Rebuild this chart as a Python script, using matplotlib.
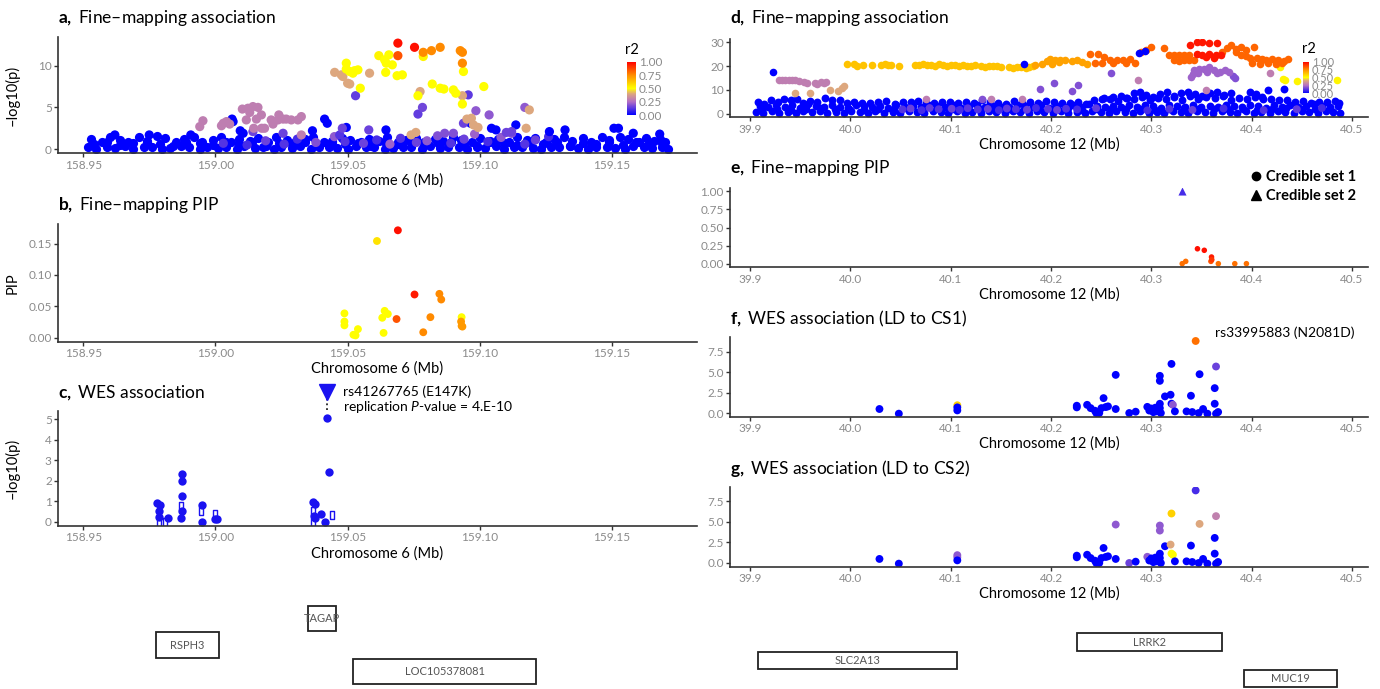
import matplotlib
matplotlib.use('Agg')
import matplotlib.pyplot as plt
from matplotlib.colors import LinearSegmentedColormap, Normalize
from matplotlib.cm import ScalarMappable
from matplotlib.lines import Line2D
from matplotlib.patches import Rectangle

plt.rcParams['font.family'] = ['Lato', 'DejaVu Sans']
plt.rcParams['mathtext.fontset'] = 'custom'
plt.rcParams['mathtext.rm'] = 'Lato'
plt.rcParams['mathtext.it'] = 'Lato:italic'
plt.rcParams['mathtext.bf'] = 'Lato:bold'

### DATA

# --- chr6 locus, panel a: fine-mapping association (-log10 p), coloured by r2
a_band1_x = [158.952, 158.955, 158.959, 158.962, 158.966, 158.969, 158.973, 158.976,
             158.980, 158.983, 158.987, 158.990, 158.994, 158.997, 159.001, 159.004,
             159.008, 159.011, 159.015, 159.018, 159.022, 159.025, 159.029, 159.032,
             159.036, 159.039, 159.043, 159.046, 159.050, 159.053, 159.057, 159.060,
             159.064, 159.067, 159.071, 159.074, 159.078, 159.081, 159.085, 159.088,
             159.092, 159.095, 159.099, 159.102, 159.106, 159.109, 159.113, 159.116,
             159.120, 159.123, 159.127, 159.130, 159.134, 159.137, 159.141, 159.144,
             159.148, 159.151, 159.155, 159.158, 159.162, 159.165, 159.169, 159.171]
a_band1_y = [0.2, 0.0, 0.3, 0.1, 0.4, 0.0, 0.2, 0.3,
             0.0, 0.1, 0.4, 0.2, 0.0, 0.3, 0.1, 0.2,
             0.0, 0.4, 0.1, 0.3, 0.0, 0.2, 0.1, 0.4,
             0.0, 0.3, 0.2, 0.1, 0.0, 0.4, 0.2, 0.3,
             0.0, 0.1, 0.3, 0.2, 0.0, 0.4, 0.1, 0.2,
             0.3, 0.0, 0.2, 0.1, 0.4, 0.0, 0.3, 0.2,
             0.1, 0.0, 0.3, 0.2, 0.4, 0.1, 0.0, 0.2,
             0.3, 0.1, 0.0, 0.4, 0.2, 0.1, 0.3, 0.0]
a_band2_x = [158.953, 158.957, 158.960, 158.964, 158.967, 158.971, 158.974, 158.978,
             158.981, 158.985, 158.988, 158.992, 158.995, 158.999, 159.002, 159.006,
             159.009, 159.013, 159.016, 159.020, 159.023, 159.027, 159.030, 159.034,
             159.037, 159.041, 159.044, 159.048, 159.051, 159.055, 159.058, 159.062,
             159.065, 159.069, 159.072, 159.076, 159.079, 159.083, 159.086, 159.090,
             159.093, 159.097, 159.100, 159.104, 159.107, 159.111, 159.114, 159.118,
             159.121, 159.125, 159.128, 159.132, 159.135, 159.139, 159.142, 159.146,
             159.149, 159.153, 159.156, 159.160, 159.163, 159.166, 159.168, 159.170]
a_band2_y = [1.2, 0.9, 1.5, 1.1, 0.8, 1.4, 1.0, 1.6,
             1.3, 0.9, 1.2, 1.5, 0.8, 1.1, 1.4, 0.9,
             1.2, 1.0, 1.3, 0.8, 1.5, 1.1, 0.9, 1.2,
             1.4, 0.8, 1.0, 1.3, 1.1, 0.9, 1.2, 1.0,
             1.4, 0.9, 1.1, 1.3, 0.8, 1.2, 1.0, 1.5,
             1.1, 0.9, 1.3, 1.0, 1.2, 0.8, 1.4, 1.1,
             1.3, 0.9, 1.2, 1.5, 1.0, 1.3, 0.9, 1.4,
             1.1, 1.5, 1.2, 0.9, 1.3, 1.0, 1.2, 0.8]
a_band3_x = [158.954, 158.959, 158.964, 158.969, 158.974, 158.979, 158.984, 158.989,
             158.994, 158.999, 159.004, 159.009, 159.014, 159.019, 159.024, 159.029,
             159.034, 159.039, 159.044, 159.049, 159.054, 159.059, 159.064, 159.069,
             159.074, 159.079, 159.084, 159.089, 159.094, 159.099, 159.104, 159.109,
             159.114, 159.119, 159.124, 159.129, 159.134, 159.139, 159.144, 159.149,
             159.154, 159.159, 159.164, 159.169]
a_band3_y = [0.6, 0.8, 0.5, 0.7, 0.9, 0.6, 0.4, 0.8,
             0.7, 0.5, 0.9, 0.6, 0.8, 0.4, 0.7, 0.6,
             0.9, 0.5, 0.8, 0.6, 0.7, 0.4, 0.9, 0.6,
             0.8, 0.5, 0.7, 0.9, 0.6, 0.4, 0.8, 0.7,
             0.5, 0.9, 0.6, 0.8, 0.4, 0.7, 0.6, 0.9,
             0.5, 0.8, 0.6, 0.7]
a_low_x = [159.003, 159.012, 159.019, 159.026, 159.031, 159.038, 159.045, 159.049,
           159.056, 159.061, 159.066, 159.070, 159.076, 159.080, 159.084, 159.089,
           159.094, 159.098, 159.103, 159.108, 159.112, 159.117, 159.121, 159.126]
a_low_y = [0.7, 0.5, 1.0, 0.6, 1.2, 0.8, 1.5, 0.9,
           0.7, 1.1, 0.6, 1.3, 0.8, 1.0, 1.6, 0.7,
           1.2, 1.8, 0.9, 1.4, 1.9, 0.6, 1.1, 1.5]
a_low_r2 = [0.12, 0.10, 0.15, 0.12, 0.10, 0.18, 0.20, 0.12,
            0.15, 0.10, 0.22, 0.12, 0.15, 0.20, 0.18, 0.12,
            0.15, 0.22, 0.10, 0.20, 0.18, 0.12, 0.15, 0.10]

a_x = [158.962, 158.975, 158.9907, 159.0063, 159.0067, 159.0094, 159.0105, 159.0367,
       159.0413, 159.0423, 159.0495, 159.0645, 159.0965, 159.1044, 159.1061, 159.1136,
       159.1263, 159.1322, 159.1507, 159.1524, 159.158, 159.168,
       159.0142, 159.0256, 159.047, 159.048, 159.053, 159.058, 159.0766, 159.0783,
       159.0867, 159.0900, 159.0938, 159.0956, 159.0985, 159.1035, 159.110, 159.112, 159.117,
       158.9941, 158.9953, 159.0023, 159.0030, 159.0042, 159.0054, 159.0102, 159.0117,
       159.0123, 159.0130, 159.0142, 159.0145, 159.0155, 159.0161, 159.0174, 159.0175,
       159.0186, 159.0211, 159.0218, 159.0237, 159.0240, 159.0256, 159.0268, 159.0287,
       159.0312, 159.0325, 159.0325,
       159.0451, 159.0476, 159.0482, 159.0500, 159.0508, 159.0583, 159.0740, 159.0758,
       159.0774, 159.0934, 159.0951, 159.0968, 159.0976, 159.0993, 159.1175, 159.1187,
       159.0495, 159.0495, 159.0508, 159.0520, 159.0526, 159.0539, 159.0548, 159.0618,
       159.0640, 159.0644, 159.0646, 159.0656, 159.0669, 159.0687, 159.0707, 159.0766,
       159.0786, 159.0820, 159.0850, 159.0864, 159.0900, 159.0909, 159.0934, 159.0938, 159.1015,
       159.0786, 159.0817, 159.0850, 159.0926, 159.0934, 159.0934, 159.0690, 159.0690, 159.0753]
a_y = [1.7, 1.7, 1.7, 3.6, 3.3, 2.2, 1.9, 2.2,
       3.6, 3.1, 2.6, 2.3, 3.1, 2.5, 2.3, 2.9,
       2.1, 2.3, 2.5, 2.5, 1.9, 1.8,
       2.1, 1.9, 1.7, 2.5, 6.4, 2.3, 4.2, 5.0,
       1.9, 1.9, 3.1, 6.5, 4.6, 4.1, 2.0, 2.1, 5.0,
       2.7, 3.4, 2.8, 3.1, 3.3, 3.0, 4.8, 3.5,
       4.9, 4.4, 5.1, 2.5, 3.6, 5.0, 4.1, 2.5,
       2.5, 3.5, 3.0, 3.5, 4.1, 3.6, 3.6, 3.5,
       3.5, 3.9, 1.7,
       9.2, 8.9, 8.7, 7.9, 7.8, 9.1, 1.7, 2.0,
       6.9, 6.4, 3.6, 3.7, 2.9, 2.6, 2.5, 4.7,
       10.3, 9.6, 9.3, 9.1, 9.4, 9.5, 7.3, 11.2,
       10.7, 9.2, 10.3, 11.3, 10.1, 8.8, 8.9, 6.4,
       11.1, 7.8, 7.3, 7.2, 7.1, 6.7, 5.4, 9.3, 7.5,
       11.6, 11.8, 12.2, 11.8, 11.6, 10.3, 11.2, 12.7, 12.2]
a_r2 = [0.0, 0.0, 0.0, 0.0, 0.0, 0.0, 0.0, 0.0,
        0.0, 0.0, 0.0, 0.0, 0.0, 0.0, 0.0, 0.0,
        0.0, 0.0, 0.0, 0.0, 0.0, 0.0,
        0.15, 0.15, 0.12, 0.15, 0.14, 0.15, 0.14, 0.16,
        0.18, 0.18, 0.15, 0.13, 0.20, 0.20, 0.15, 0.15, 0.20,
        0.29, 0.29, 0.29, 0.29, 0.29, 0.29, 0.29, 0.29,
        0.29, 0.29, 0.29, 0.29, 0.29, 0.29, 0.29, 0.29,
        0.29, 0.29, 0.29, 0.29, 0.29, 0.29, 0.29, 0.29,
        0.29, 0.29, 0.29,
        0.40, 0.40, 0.40, 0.40, 0.40, 0.40, 0.40, 0.40,
        0.40, 0.40, 0.40, 0.40, 0.40, 0.40, 0.40, 0.40,
        0.50, 0.50, 0.50, 0.50, 0.50, 0.50, 0.50, 0.52,
        0.50, 0.50, 0.50, 0.50, 0.50, 0.50, 0.50, 0.50,
        0.52, 0.50, 0.50, 0.50, 0.50, 0.50, 0.50, 0.50, 0.50,
        0.75, 0.75, 0.75, 0.75, 0.75, 0.75, 0.85, 0.97, 0.97]

# --- panel b: PIP
b_x = [159.0690, 159.0611, 159.0753, 159.0847, 159.0854, 159.0488, 159.0488, 159.0488,
       159.0539, 159.0522, 159.0530, 159.0640, 159.0652, 159.0631, 159.0636, 159.0685,
       159.0813, 159.0786, 159.0931, 159.0929, 159.0931, 159.0934]
b_pip = [0.171, 0.154, 0.069, 0.070, 0.061, 0.039, 0.026, 0.020,
         0.014, 0.005, 0.004, 0.043, 0.038, 0.032, 0.008, 0.030,
         0.033, 0.009, 0.033, 0.026, 0.019, 0.018]
b_r2 = [0.97, 0.56, 0.95, 0.75, 0.75, 0.50, 0.50, 0.50,
        0.50, 0.50, 0.50, 0.50, 0.50, 0.50, 0.50, 0.85,
        0.75, 0.75, 0.50, 0.72, 0.72, 0.72]

# --- panel c: WES association
c_dot_x = [158.9781, 158.9790, 158.9788, 158.9788, 158.9821, 158.9875, 158.9875, 158.9875,
           158.9875, 158.9871, 158.9948, 158.9948, 159.0006, 159.0000, 159.0369, 159.0375,
           159.0372, 159.0378, 159.0400, 159.0413, 159.0423, 159.0429]
c_dot_y = [0.90, 0.81, 0.53, 0.26, 0.21, 2.34, 1.98, 1.26,
           0.53, 0.21, 0.81, 0.00, 0.16, 0.13, 0.97, 0.85,
           0.29, 0.18, 0.37, 0.00, 5.05, 2.42]
c_box_x = [158.9788, 158.9810, 158.9869, 158.9944, 159.0000, 159.0369, 159.0369, 159.0441]
c_box_y = [-0.06, 0.00, 0.77, 0.53, 0.37, 0.53, 0.00, 0.32]
c_top_x = 159.0423
c_top_y = 5.05

left_genes = ['TAGAP', 'RSPH3', 'LOC105378081']
left_gene_start = [159.0350, 158.9775, 159.0521]
left_gene_end = [159.0457, 159.0013, 159.1212]
left_gene_row = [0, 1, 2]

# --- chr12 locus, panel d
d_band1_x = [39.906, 39.913, 39.922, 39.929, 39.938, 39.946, 39.953, 39.962,
             39.970, 39.977, 39.986, 39.994, 40.001, 40.010, 40.018, 40.025,
             40.034, 40.042, 40.049, 40.058, 40.066, 40.073, 40.082, 40.090,
             40.097, 40.106, 40.114, 40.121, 40.130, 40.138, 40.145, 40.154,
             40.162, 40.169, 40.178, 40.186, 40.193, 40.202, 40.210, 40.217,
             40.226, 40.234, 40.241, 40.250, 40.258, 40.265, 40.274, 40.282,
             40.289, 40.298, 40.306, 40.313, 40.322, 40.330, 40.337, 40.346,
             40.354, 40.361, 40.370, 40.378, 40.385, 40.394, 40.402, 40.409,
             40.418, 40.426, 40.433, 40.442, 40.450, 40.457, 40.466, 40.474,
             40.481, 40.488]
d_band1_y = [0.8, 0.3, 1.2, 0.5, 0.9, 0.2, 1.1, 0.6,
             1.3, 0.4, 0.9, 0.2, 1.0, 0.7, 0.3, 1.2,
             0.5, 0.9, 0.2, 1.1, 0.6, 0.3, 1.0, 0.8,
             0.4, 1.2, 0.5, 0.9, 0.2, 1.1, 0.7, 0.3,
             1.0, 0.6, 0.2, 1.2, 0.8, 0.4, 1.0, 0.5,
             0.9, 0.3, 1.1, 0.6, 0.2, 1.0, 0.8, 0.4,
             1.2, 0.5, 0.9, 0.3, 1.1, 0.7, 0.2, 1.0,
             0.6, 0.4, 1.2, 0.8, 0.3, 1.0, 0.5, 0.9,
             0.2, 1.1, 0.7, 0.4, 1.0, 0.6, 0.3, 1.2,
             0.8, 0.5]
d_band2_x = [39.910, 39.918, 39.926, 39.935, 39.942, 39.950, 39.958, 39.966,
             39.974, 39.982, 39.990, 39.998, 40.006, 40.014, 40.022, 40.030,
             40.038, 40.045, 40.054, 40.062, 40.070, 40.078, 40.086, 40.094,
             40.102, 40.110, 40.118, 40.126, 40.134, 40.142, 40.150, 40.158,
             40.166, 40.174, 40.182, 40.190, 40.198, 40.206, 40.214, 40.222,
             40.230, 40.238, 40.246, 40.254, 40.262, 40.270, 40.278, 40.286,
             40.294, 40.302, 40.310, 40.318, 40.326, 40.334, 40.342, 40.350,
             40.358, 40.366, 40.374, 40.382, 40.390, 40.398, 40.406, 40.414,
             40.422, 40.430, 40.438, 40.446, 40.454, 40.462, 40.470, 40.478,
             40.486]
d_band2_y = [3.2, 2.7, 3.8, 2.9, 3.5, 2.6, 3.9, 3.1,
             2.8, 3.6, 3.0, 2.5, 3.7, 3.2, 2.9, 3.4,
             2.6, 3.8, 3.0, 3.3, 2.7, 3.6, 3.1, 2.9,
             3.5, 2.6, 3.2, 3.8, 2.8, 3.4, 3.0, 2.7,
             3.6, 3.1, 2.9, 3.7, 2.6, 3.3, 3.0, 3.5,
             2.8, 3.9, 3.2, 2.7, 3.4, 3.0, 3.6, 2.9,
             3.8, 3.1, 2.6, 3.5, 3.2, 2.8, 3.7, 3.0,
             3.4, 2.7, 3.6, 3.1, 2.9, 3.8, 3.3, 2.6,
             3.5, 3.0, 3.7, 2.8, 3.2, 3.9, 3.1, 2.7,
             3.4]
d_band3_x = [39.908, 39.921, 39.934, 39.947, 39.960, 39.975, 39.990, 40.004,
             40.020, 40.036, 40.052, 40.067, 40.083, 40.099, 40.115, 40.131,
             40.147, 40.163, 40.179, 40.195, 40.211, 40.227, 40.243, 40.259,
             40.275, 40.291, 40.307, 40.323, 40.339, 40.355, 40.371, 40.387,
             40.403, 40.419, 40.435, 40.451, 40.467, 40.483]
d_band3_y = [4.8, 5.6, 6.4, 6.0, 5.2, 6.5, 5.8, 5.0,
             4.7, 5.3, 4.9, 5.5, 4.6, 5.1, 4.8, 5.6,
             4.7, 5.2, 4.9, 5.4, 4.6, 5.0, 5.7, 6.3,
             6.8, 7.0, 6.5, 7.2, 7.6, 6.9, 7.3, 6.6,
             7.1, 6.4, 5.9, 5.2, 4.8, 5.5]
d_band4_x = [39.912, 39.927, 39.941, 39.956, 39.970, 39.985, 39.999, 40.014,
             40.028, 40.043, 40.057, 40.072, 40.086, 40.101, 40.115, 40.130,
             40.144, 40.159, 40.173, 40.188, 40.202, 40.217, 40.231, 40.246,
             40.260, 40.275, 40.289, 40.304, 40.318, 40.333, 40.347, 40.362,
             40.376, 40.391, 40.405, 40.420, 40.434, 40.449, 40.463, 40.478]
d_band4_y = [1.9, 2.2, 1.7, 2.0, 2.3, 1.8, 2.1, 1.6,
             2.2, 1.9, 2.0, 1.7, 2.3, 1.8, 2.1, 2.0,
             1.6, 2.2, 1.9, 2.1, 1.8, 2.3, 1.7, 2.0,
             2.2, 1.9, 2.1, 1.6, 2.0, 2.3, 1.8, 2.1,
             1.9, 2.2, 1.7, 2.0, 2.3, 1.8, 2.1, 1.9]
d_band5_x = [39.914, 39.928, 39.941, 39.953, 39.967, 39.982, 39.997, 40.012,
             40.028, 40.044, 40.060, 40.075, 40.091, 40.107, 40.123, 40.139,
             40.155, 40.171, 40.187, 40.203, 40.219, 40.235, 40.251, 40.267,
             40.283, 40.299, 40.315, 40.331, 40.347, 40.363, 40.379, 40.395,
             40.411, 40.427, 40.443, 40.459, 40.475, 40.487]
d_band5_y = [4.3, 5.0, 5.9, 4.5, 4.9, 5.6, 4.4, 4.6,
             5.1, 4.3, 4.8, 4.5, 5.0, 4.4, 4.7, 4.9,
             4.2, 4.6, 4.4, 4.8, 4.5, 4.3, 6.0, 5.4,
             6.2, 5.7, 6.4, 5.9, 6.1, 6.6, 5.8, 6.3,
             6.0, 5.6, 4.9, 4.6, 5.0, 4.4]
d_hump_x = [40.253, 40.262, 40.270, 40.276, 40.283, 40.289, 40.295, 40.302,
            40.309, 40.316, 40.323, 40.330, 40.337, 40.344, 40.351, 40.358,
            40.365, 40.372, 40.379, 40.398, 40.404, 40.410, 40.416, 40.432]
d_hump_y = [6.6, 7.2, 7.3, 6.5, 8.6, 9.2, 8.0, 7.1,
            8.5, 9.0, 7.6, 8.8, 9.3, 8.1, 7.4, 8.9,
            9.1, 7.8, 8.7, 9.3, 8.5, 7.2, 10.0, 10.2]
d_low_x = [40.052, 40.060, 40.071, 40.079, 40.088, 40.101, 40.109, 40.117, 40.127,
           40.137, 40.148, 40.156, 40.165, 40.176, 40.185, 40.197, 40.206, 40.215,
           40.226, 40.245, 40.296, 40.318, 40.341, 40.372, 40.412, 40.445, 40.470]
d_low_y = [1.8, 2.2, 1.5, 2.4, 1.9, 2.1, 1.6, 2.3, 1.8,
           2.0, 1.5, 2.2, 1.9, 1.7, 2.4, 2.0, 1.6, 2.1,
           1.8, 2.3, 1.4, 2.0, 1.6, 2.2, 1.5, 1.9, 2.4]
d_low_r2 = [0.12, 0.15, 0.10, 0.14, 0.12, 0.15, 0.10, 0.13, 0.12,
            0.15, 0.10, 0.14, 0.12, 0.15, 0.10, 0.13, 0.15, 0.12,
            0.10, 0.14, 0.10, 0.12, 0.15, 0.10, 0.12, 0.14, 0.10]

d_orchid_x = [39.9287, 39.9320, 39.9353, 39.9386, 39.9419, 39.9452, 39.9492, 39.9535,
              39.9568, 39.9650, 39.9667, 39.9706, 39.9739, 39.9759, 40.0756, 40.1400,
              40.1713, 40.2866, 40.3547, 40.4186]
d_orchid_y = [14.2, 14.2, 14.2, 14.2, 14.0, 14.2, 13.8, 13.5,
              13.1, 13.1, 12.4, 13.5, 12.8, 13.5, 6.3, 6.3,
              6.3, 14.2, 10.0, 17.2]
d_tan_x = [39.9452, 39.9601, 39.9799, 39.9881, 39.9914, 39.9937]
d_tan_y = [8.9, 8.9, 10.0, 9.6, 10.7, 11.7]
d_purple_x = [40.1894, 40.2026, 40.2208, 40.2267, 40.1310, 40.2600, 40.3810, 40.3830]
d_purple_y = [10.3, 12.8, 9.6, 12.1, 6.3, 17.2, 15.8, 15.2]
d_lav_x = [40.3427, 40.3476, 40.3525, 40.3574, 40.3622, 40.3688, 40.3736, 40.3773,
           40.3420, 40.3470, 40.3560, 40.3650, 40.3400]
d_lav_y = [18.3, 19.0, 19.0, 19.7, 18.3, 17.6, 18.3, 17.6,
           16.6, 17.3, 17.5, 17.2, 15.4]
d_yellow_x = [40.4316, 40.4330, 40.4450, 40.4850, 40.4280]
d_yellow_y = [14.5, 14.0, 13.8, 14.0, 19.6]
d_gold_x = [39.9964, 40.0036, 40.0063, 40.0129, 40.0211, 40.0310, 40.0343, 40.0376, 40.0409, 40.0485,
            40.064, 40.068, 40.072, 40.076, 40.080, 40.084, 40.088, 40.092,
            40.096, 40.100, 40.104, 40.108, 40.112, 40.116, 40.120, 40.124,
            40.130, 40.134, 40.138, 40.142, 40.146, 40.150,
            40.158, 40.162, 40.166, 40.170, 40.175, 40.178, 40.182]
d_gold_y = [20.8, 21.0, 19.9, 20.6, 20.6, 20.6, 20.8, 20.6, 20.6, 19.9,
            20.6, 20.3, 20.9, 20.4, 20.7, 20.2, 20.8, 20.5,
            20.1, 20.6, 20.3, 20.0, 20.5, 20.2, 19.9, 20.3,
            20.0, 19.8, 20.2, 19.9, 20.1, 19.7,
            19.6, 19.3, 19.8, 19.5, 19.2, 19.6, 19.9]
d_orange_x = [40.1845, 40.1910, 40.1960, 40.1990, 40.2010, 40.2043, 40.2076, 40.2090,
              40.2140, 40.2210, 40.2260, 40.2310, 40.2360]
d_orange_y = [20.4, 21.0, 22.1, 23.1, 21.0, 22.7, 21.7, 22.7,
              22.4, 22.1, 22.7, 21.7, 21.0]
d_ored_x = [40.239, 40.2466, 40.253, 40.259, 40.266, 40.272, 40.279,
            40.244, 40.251, 40.262, 40.275, 40.284,
            40.290, 40.295, 40.300, 40.313,
            40.318, 40.323, 40.328, 40.333, 40.338,
            40.323, 40.328, 40.333, 40.338, 40.343,
            40.370, 40.375, 40.379, 40.384, 40.384, 40.389, 40.394, 40.402,
            40.389, 40.394, 40.398, 40.405, 40.410, 40.414, 40.420, 40.426, 40.432, 40.436,
            40.400, 40.408, 40.416, 40.424, 40.430]
d_ored_y = [25.2, 25.2, 23.8, 22.7, 22.4, 22.7, 23.1,
            21.5, 21.3, 21.5, 21.3, 21.5,
            25.9, 26.9, 27.9, 27.7,
            24.9, 24.9, 24.7, 24.9, 24.7,
            22.4, 22.0, 22.4, 22.7, 22.4,
            26.0, 27.5, 28.9, 27.2, 25.8, 28.0, 27.0, 28.0,
            24.9, 24.4, 23.6, 23.6, 22.9, 22.4, 22.9, 22.4, 22.0, 22.9,
            21.5, 21.0, 21.3, 20.8, 21.3]
d_red_x = [40.339, 40.346, 40.351, 40.357, 40.365, 40.346, 40.351, 40.357, 40.364, 40.369, 40.355, 40.362]
d_red_y = [29.0, 30.0, 30.0, 29.6, 29.6, 25.2, 24.5, 25.2, 24.8, 24.5, 23.8, 23.5]
d_blue_x = [39.9231, 40.1730, 40.2877, 40.2940]
d_blue_y = [17.6, 21.0, 25.5, 26.4]
d_group_r2 = [0.29, 0.40, 0.18, 0.22, 0.52, 0.63, 0.70, 0.82, 0.96, 0.0]

# --- panel e: PIP with two credible sets
e_cs1_x = [40.3308, 40.3343, 40.3460, 40.3528, 40.3600, 40.3594, 40.3603, 40.3668, 40.3832, 40.3948]
e_cs1_pip = [0.000, 0.032, 0.206, 0.185, 0.092, 0.032, 0.055, 0.000, 0.000, 0.000]
e_cs1_r2 = [0.80, 0.80, 0.97, 0.97, 0.95, 0.85, 0.90, 0.80, 0.80, 0.80]
e_cs2_x = [40.331]
e_cs2_pip = [1.0]
e_cs2_r2 = [0.10]

# --- panels f, g: WES association coloured by LD to CS1 / CS2
wes_x = [40.0290, 40.0483, 40.1066, 40.1066, 40.1066, 40.2257, 40.2257, 40.2360, 40.2395, 40.2438,
         40.2451, 40.2481, 40.2503, 40.2524, 40.2546, 40.2568, 40.2645, 40.2645, 40.2780, 40.2844,
         40.2960, 40.2980, 40.3000, 40.3020, 40.3040, 40.3050, 40.3085, 40.3085, 40.3085, 40.3085,
         40.3095, 40.3136, 40.3192, 40.3201, 40.3201, 40.3215, 40.3235, 40.3351, 40.3395, 40.3408,
         40.3442, 40.3481, 40.3472, 40.3516, 40.3559, 40.3632, 40.3632, 40.3645, 40.3666, 40.3645]
wes_logp = [0.49, -0.08, 0.95, 0.69, 0.32, 0.89, 0.69, 1.00, 0.60, 0.28,
            0.00, 0.00, 0.60, 1.82, 0.73, 0.81, 4.66, 0.49, 0.00, 0.16,
            0.75, 0.30, 0.55, 0.10, 0.65, 0.20, 4.54, 3.93, 1.13, 0.60,
            0.00, 2.03, 2.23, 6.00, 1.14, 1.00, 0.20, 0.20, 2.11, 0.12,
            8.80, 4.74, 0.00, 0.49, -0.08, 3.04, 1.13, 5.68, 0.12, -0.08]
wes_r2_cs1 = [0.0, 0.0, 0.6, 0.0, 0.0, 0.0, 0.0, 0.0, 0.0, 0.0,
              0.0, 0.0, 0.0, 0.0, 0.0, 0.0, 0.0, 0.0, 0.0, 0.0,
              0.0, 0.0, 0.0, 0.0, 0.0, 0.0, 0.0, 0.0, 0.0, 0.0,
              0.0, 0.0, 0.0, 0.0, 0.0, 0.2, 0.0, 0.0, 0.0, 0.0,
              0.8, 0.0, 0.0, 0.0, 0.0, 0.0, 0.0, 0.15, 0.0, 0.0]
wes_r2_cs2 = [0.0, 0.0, 0.2, 0.2, 0.0, 0.0, 0.0, 0.0, 0.0, 0.0,
              0.0, 0.0, 0.0, 0.0, 0.0, 0.0, 0.2, 0.0, 0.15, 0.0,
              0.2, 0.0, 0.0, 0.0, 0.0, 0.0, 0.2, 0.2, 0.0, 0.0,
              0.0, 0.0, 0.4, 0.6, 0.5, 0.5, 0.0, 0.0, 0.0, 0.0,
              0.1, 0.4, 0.0, 0.0, 0.0, 0.0, 0.0, 0.3, 0.0, 0.0]
f_label = 'rs33995883 (N2081D)'
f_label_x = 40.3635
f_label_y = 9.8

right_genes = ['LRRK2', 'SLC2A13', 'MUC19']
right_gene_start = [40.226, 39.908, 40.392]
right_gene_end = [40.370, 40.106, 40.485]
right_gene_row = [0, 1, 2]

chr6_ticks = [158.95, 159.00, 159.05, 159.10, 159.15]
chr12_ticks = [39.9, 40.0, 40.1, 40.2, 40.3, 40.4, 40.5]
r2_ticks = [0.0, 0.25, 0.5, 0.75, 1.0]

### FIGURE

W, H = 1380, 689
fig = plt.figure(figsize=(W / 100, H / 100), dpi=100)

r2_cmap = LinearSegmentedColormap.from_list(
    'r2', [(0.0, '#0000FF'), (0.25, '#B36FC4'), (0.4, '#DDA77E'),
           (0.5, '#FFFF00'), (0.75, '#FF8C00'), (1.0, '#FF0000')])
r2_norm = Normalize(0, 1)

LEFT_XLIM = (158.9405, 159.1821)
RIGHT_XLIM = (39.880, 40.516)
TICK_GREY = '#8a8a8a'


def px_axes(x0, y0, x1, y1):
    return fig.add_axes([x0 / W, 1 - y1 / H, (x1 - x0) / W, (y1 - y0) / H])


def style(ax, xticks, fmt, chrom):
    for s in ['top', 'right']:
        ax.spines[s].set_visible(False)
    for s in ['left', 'bottom']:
        ax.spines[s].set_color('#333333')
        ax.spines[s].set_linewidth(1.2)
    ax.set_xticks(xticks)
    ax.set_xticklabels([fmt % t for t in xticks])
    ax.tick_params(length=3, width=1, color='#333333', labelcolor=TICK_GREY,
                   labelsize=8.5, pad=1.5)
    ax.set_xlabel('Chromosome %s (Mb)' % chrom, fontsize=10.5, labelpad=2)


def title(x, y, letter, text):
    fig.text(x / W, 1 - y / H, r'$\bf{' + letter + r',}$ ' + text,
             fontsize=12.5, ha='left', va='center')


def r2_bar(x0, y0, x1, y1, tx, ty, size):
    cax = px_axes(x0, y0, x1, y1)
    cb = fig.colorbar(ScalarMappable(r2_norm, r2_cmap), cax=cax, ticks=r2_ticks)
    cb.outline.set_visible(False)
    cb.ax.set_yticklabels(['%.2f' % t for t in r2_ticks])
    cb.ax.tick_params(length=0, labelsize=size, labelcolor=TICK_GREY, pad=2)
    fig.text(tx / W, 1 - ty / H, 'r2', fontsize=10.5, ha='center', va='center')


def gene_track(x0, y0, x1, y1, xlim, ylim, names, starts, ends, rows):
    ax = px_axes(x0, y0, x1, y1)
    ax.set_xlim(xlim)
    ax.set_ylim(ylim)
    ax.axis('off')
    for name, s, e, r in zip(names, starts, ends, rows):
        ax.add_patch(Rectangle((s, r - 0.48), e - s, 0.96, fill=False,
                               ec='#222222', lw=1.3))
        ax.text((s + e) / 2, r, name, ha='center', va='center',
                fontsize=8, color='#555555')


def r2_col(v):
    return [r2_cmap(r2_norm(v))]


# ---- a
ax_a = px_axes(58, 37.3, 697, 153.3)
for bx, by in [(a_band1_x, a_band1_y), (a_band3_x, a_band3_y), (a_band2_x, a_band2_y)]:
    ax_a.scatter(bx, by, s=44, c=r2_col(0.0), lw=0)
ax_a.scatter(a_low_x, a_low_y, s=44, c=a_low_r2, cmap=r2_cmap, norm=r2_norm, lw=0)
ax_a.scatter(a_x, a_y, s=44, c=a_r2, cmap=r2_cmap, norm=r2_norm, lw=0)
ax_a.set_xlim(LEFT_XLIM)
ax_a.set_ylim(-0.5, 13.4)
ax_a.set_yticks([0, 5, 10])
style(ax_a, chr6_ticks, '%.2f', '6')
ax_a.set_ylabel('\u2013log10(p)', fontsize=10.5)
ax_a.yaxis.set_label_coords((20 - 58) / 639, 0.5)
title(58, 18, 'a', 'Fine\u2013mapping association')
r2_bar(627, 61.7, 636, 115, 632, 50, 8.5)

# ---- b
ax_b = px_axes(58, 224, 697, 341.7)
ax_b.scatter(b_x, b_pip, s=32, c=b_r2, cmap=r2_cmap, norm=r2_norm, lw=0)
ax_b.set_xlim(LEFT_XLIM)
ax_b.set_ylim(-0.006, 0.181)
ax_b.set_yticks([0, 0.05, 0.10, 0.15])
ax_b.set_yticklabels(['0.00', '0.05', '0.10', '0.15'])
style(ax_b, chr6_ticks, '%.2f', '6')
ax_b.set_ylabel('PIP', fontsize=10.5)
ax_b.yaxis.set_label_coords((20 - 58) / 639, 0.5)
title(58, 205, 'b', 'Fine\u2013mapping PIP')

# ---- c
ax_c = px_axes(58, 410.7, 697, 526)
ax_c.scatter(c_dot_x, c_dot_y, s=36, color='#1a12f0', lw=0)
rect_marker = [(-0.5, -1), (0.5, -1), (0.5, 1), (-0.5, 1), (-0.5, -1)]
ax_c.scatter(c_box_x, c_box_y, s=34, marker=rect_marker, facecolors='none',
             edgecolors='#1a12f0', lw=1.0)
ax_c.plot([c_top_x, c_top_x], [c_top_y + 0.4, c_top_y + 1.0], ls=':', color='#222222',
          lw=1.3, clip_on=False)
ax_c.plot([c_top_x], [c_top_y + 1.28], marker='v', ms=11, color='#1a12f0', ls='',
          clip_on=False)
ax_c.text(159.0483, c_top_y + 1.28, 'rs41267765 (E147K)', fontsize=10,
          ha='left', va='center', clip_on=False)
ax_c.text(159.0483, c_top_y + 0.55, r'replication $\it{P}$-value = 4.E-10', fontsize=10,
          ha='left', va='center', clip_on=False)
ax_c.set_xlim(LEFT_XLIM)
ax_c.set_ylim(-0.2, 5.42)
ax_c.set_yticks([0, 1, 2, 3, 4, 5])
style(ax_c, chr6_ticks, '%.2f', '6')
ax_c.set_ylabel('\u2013log10(p)', fontsize=10.5)
ax_c.yaxis.set_label_coords((20 - 58) / 639, 0.5)
title(58, 392.7, 'c', 'WES association')

gene_track(58, 591, 697, 689, LEFT_XLIM, (2.660, -1.038),
           left_genes, left_gene_start, left_gene_end, left_gene_row)

# ---- d
ax_d = px_axes(730, 39.3, 1368, 117.3)
for bx, by in [(d_band1_x, d_band1_y), (d_band4_x, d_band4_y), (d_band2_x, d_band2_y),
               (d_band5_x, d_band5_y), (d_band3_x, d_band3_y), (d_hump_x, d_hump_y)]:
    ax_d.scatter(bx, by, s=32, c=r2_col(0.0), lw=0)
ax_d.scatter(d_low_x, d_low_y, s=32, c=d_low_r2, cmap=r2_cmap, norm=r2_norm, lw=0)
d_groups = [(d_orchid_x, d_orchid_y), (d_tan_x, d_tan_y), (d_purple_x, d_purple_y),
            (d_lav_x, d_lav_y), (d_yellow_x, d_yellow_y), (d_gold_x, d_gold_y),
            (d_orange_x, d_orange_y), (d_ored_x, d_ored_y), (d_red_x, d_red_y),
            (d_blue_x, d_blue_y)]
for (gx, gy), gr2 in zip(d_groups, d_group_r2):
    ax_d.scatter(gx, gy, s=30, c=r2_col(gr2), lw=0)
ax_d.set_xlim(RIGHT_XLIM)
ax_d.set_ylim(-1.5, 31.3)
ax_d.set_yticks([0, 10, 20, 30])
style(ax_d, chr12_ticks, '%.1f', '12')
title(730, 18, 'd', 'Fine\u2013mapping association')
r2_bar(1302.7, 61.7, 1309.3, 93.3, 1309, 49, 8)

# ---- e
ax_e = px_axes(730, 187.7, 1368, 267.3)
ax_e.scatter(e_cs1_x, e_cs1_pip, s=16, marker='o', c=e_cs1_r2, cmap=r2_cmap,
             norm=r2_norm, lw=0)
ax_e.scatter(e_cs2_x, e_cs2_pip, s=34, marker='^', c=e_cs2_r2, cmap=r2_cmap,
             norm=r2_norm, lw=0)
ax_e.set_xlim(RIGHT_XLIM)
ax_e.set_ylim(-0.05, 1.05)
ax_e.set_yticks(r2_ticks)
ax_e.set_yticklabels(['%.2f' % t for t in r2_ticks])
style(ax_e, chr12_ticks, '%.1f', '12')
title(730, 168.3, 'e', 'Fine\u2013mapping PIP')
handles = [Line2D([], [], marker='o', ls='', color='black', markersize=6),
           Line2D([], [], marker='^', ls='', color='black', markersize=7)]
fig.legend(handles, ['Credible set 1', 'Credible set 2'], loc='center left',
           bbox_to_anchor=(1250 / W, 1 - 186.5 / H), frameon=False,
           prop={'weight': 'bold', 'size': 10.5}, handlelength=0.8,
           handletextpad=0.3, labelspacing=0.35, borderpad=0, borderaxespad=0)

# ---- f, g
for (top, bot, r2v, letter, text) in [
        (337.3, 416.7, wes_r2_cs1, 'f', 'WES association (LD to CS1)'),
        (486.7, 566.7, wes_r2_cs2, 'g', 'WES association (LD to CS2)')]:
    ax = px_axes(730, top, 1368, bot)
    ax.scatter(wes_x, wes_logp, s=32, c=r2v, cmap=r2_cmap, norm=r2_norm, lw=0)
    ax.set_xlim(RIGHT_XLIM)
    ax.set_ylim(-0.45, 9.25)
    ax.set_yticks([0, 2.5, 5.0, 7.5])
    ax.set_yticklabels(['0.0', '2.5', '5.0', '7.5'])
    style(ax, chr12_ticks, '%.1f', '12')
    title(730, top - 18.5, letter, text)
    if letter == 'f':
        ax.text(f_label_x, f_label_y, f_label, fontsize=10, ha='left', va='center',
                clip_on=False)

gene_track(730, 600, 1368, 689, RIGHT_XLIM, (2.571, -2.319),
           right_genes, right_gene_start, right_gene_end, right_gene_row)

fig.savefig('out.png', dpi=100)
